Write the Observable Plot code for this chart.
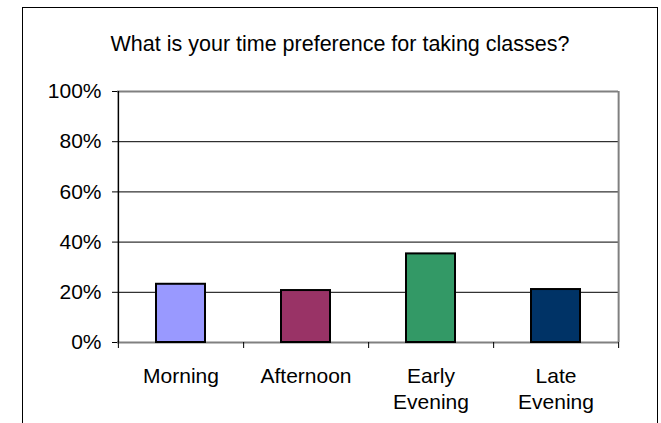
<!DOCTYPE html>
<html>
<head>
<meta charset="utf-8">
<script src="https://cdn.jsdelivr.net/npm/d3@7"></script>
<script src="https://cdn.jsdelivr.net/npm/@observablehq/plot@0.6"></script>
<style>
  html, body { margin: 0; padding: 0; background: #fff; overflow: hidden; }
  #wrap { position: relative; width: 661px; height: 423px; }
  #border { position: absolute; left: 22px; top: 7px; width: 634px; height: 500px; border: 1px solid #000; box-sizing: content-box; }
  #title { position: absolute; left: 22px; top: 34px; width: 636px; text-align: center; font: 21.5px "Liberation Sans", Arial, sans-serif; line-height: 1; color: #000; white-space: nowrap; }
  #chart { position: absolute; left: 0; top: 0; }
</style>
</head>
<body>
<div id="wrap">
  <div id="border"></div>
  <div id="title"></div>
  <div id="chart"></div>
</div>
<script>
const titleText = "What is your time preference for taking classes?";
const categories = ["Morning", "Afternoon", "Early Evening", "Late Evening"];
const labels = ["Morning", "Afternoon", "Early\nEvening", "Late\nEvening"];
const values = [0.232, 0.207, 0.353, 0.211];
const colors = ["#9999FF", "#993366", "#339966", "#003366"];
const yTicks = [0, 0.2, 0.4, 0.6, 0.8, 1];

const data = categories.map((c, i) => ({category: c, label: labels[i], value: values[i], color: colors[i]}));

const W = 661, H = 423, mL = 117, mR = 43, mT = 91, mB = 81;
const step = (W - mL - mR) / categories.length;

document.getElementById("title").textContent = titleText;

const chart = Plot.plot({
  width: W, height: H,
  marginLeft: mL, marginRight: mR, marginTop: mT, marginBottom: mB,
  style: {fontSize: "21px", fontFamily: "'Liberation Sans', Arial, sans-serif", color: "#000", background: "transparent", overflow: "visible"},
  x: {domain: categories, paddingInner: 0.61, paddingOuter: 0.305, axis: null},
  y: {domain: [0, 1], ticks: yTicks, tickFormat: d3.format(".0%"), tickSize: 5, tickPadding: 11, label: null},
  marks: [
    Plot.ruleY(yTicks.filter(d => d > 0 && d < 1), {stroke: "#000", strokeWidth: 1}),
    Plot.ruleY([1], {stroke: "#808080", strokeWidth: 2}),
    Plot.ruleX([categories[categories.length - 1]], {dx: step / 2, stroke: "#808080", strokeWidth: 2}),
    Plot.ruleY([0], {stroke: "#808080", strokeWidth: 2}),
    Plot.barY(data, {x: "category", y: "value", fill: "color", stroke: "#000", strokeWidth: 2}),
    Plot.ruleX([categories[0]], {dx: -step / 2, stroke: "#000", strokeWidth: 1.5}),
    Plot.ruleX([categories[0]], {dx: -step / 2, y1: 0, y2: 0, insetBottom: -6, stroke: "#000", strokeWidth: 1}),
    Plot.ruleX(categories, {dx: step / 2, y1: 0, y2: 0, insetBottom: -6, stroke: "#000", strokeWidth: 1}),
    Plot.text(data, {x: "category", y: () => 0, text: "label", lineAnchor: "top", dy: 22, lineHeight: 1.24, fill: "#000", fontSize: 21})
  ]
});
document.getElementById("chart").appendChild(chart);
</script>
</body>
</html>
